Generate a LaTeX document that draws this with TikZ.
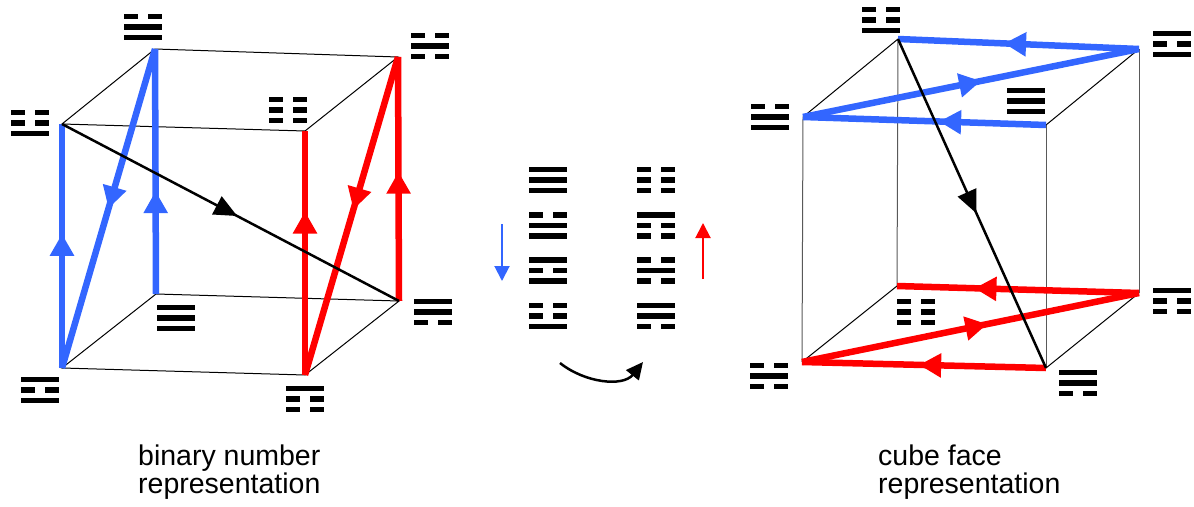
\documentclass[tikz,border=0pt]{standalone}
\usepackage{fontspec}
\setmainfont{Liberation Sans}
\usepackage{tikz}
\usetikzlibrary{arrows.meta,decorations.markings,positioning}
\definecolor{flowblue}{RGB}{51,102,255}
\definecolor{flowred}{RGB}{255,0,0}
% one line of a trigram: 1 = whole, 0 = broken
\newcommand{\yao}[1]{\ifnum#1=1 \rule{38pt}{5.5pt}\else\rule{14pt}{5.5pt}\hspace{10pt}\rule{14pt}{5.5pt}\fi}
\newcommand{\trigram}[3]{\vbox{\offinterlineskip\hbox{\yao{#1}}\kern5pt\hbox{\yao{#2}}\kern5pt\hbox{\yao{#3}}}}
\tikzset{
    tri/.style={inner sep=0pt, outer sep=0pt},
    cube/.style={line width=1pt},
    rim/.style={line width=1pt, black!65},
    flow/.style={line width=6.5pt, postaction={decorate},
        decoration={markings, mark=at position #1 with {\arrow{Triangle[length=22pt,width=23pt]}}}},
    diag/.style={line width=2.5pt, postaction={decorate},
        decoration={markings, mark=at position #1 with {\arrow{Triangle[length=23pt,width=20pt]}}}},
    hint/.style={line width=2pt, -{Triangle[length=15pt,width=15pt]}},
    caption/.style={align=left, inner sep=0pt, font=\fontsize{28.5}{27.5}\selectfont}
}

\begin{document}
\begin{tikzpicture}[x=1pt,y=-1pt]
    \useasboundingbox (0,0) rectangle (1194,506);
    % left cube
    \coordinate (Lzhen) at (62,124);
    \coordinate (Ldui) at (155,49);
    \coordinate (Lkan) at (398,57);
    \coordinate (Lkun) at (305,131);
    \coordinate (Lli) at (62,368);
    \coordinate (Lqian) at (156,294);
    \coordinate (Lxun) at (399,301);
    \coordinate (Lgen) at (305,375);
    \node[tri] (tLdui) at (143,27) {\trigram011};
    \node[tri] (tLkan) at (430,46) {\trigram010};
    \node[tri] (tLzhen) at (30,123) {\trigram001};
    \node[tri] (tLkun) at (288,110) {\trigram000};
    \node[tri] (tLqian) at (176,318) {\trigram111};
    \node[tri] (tLxun) at (433,312) {\trigram110};
    \node[tri] (tLli) at (40,390) {\trigram101};
    \node[tri] (tLgen) at (305,399) {\trigram100};

    \draw[cube] (Lzhen) -- (Ldui) -- (Lkan) -- (Lkun) -- cycle;
    \draw[cube] (Lli) -- (Lqian) -- (Lxun) -- (Lgen) -- cycle;
    \draw[flow=0.42, flowblue] (Lqian) -- (Ldui);
    \draw[flow=0.5, flowblue] (Ldui) -- (Lli);
    \draw[flow=0.55, flowblue] (Lli) -- (Lzhen);
    \draw[flow=0.53, flowred] (Lxun) -- (Lkan);
    \draw[flow=0.48, flowred] (Lkan) -- (Lgen);
    \draw[flow=0.67, flowred] (Lgen) -- (Lkun);
    \draw[diag=0.52] (Lzhen) -- (Lxun);

    % middle: the two orders
    \node[tri] (mqian) at (548,180) {\trigram111};
    \node[tri] (mdui) [below=18.8pt of mqian] {\trigram011};
    \node[tri] (mli) [below=18.8pt of mdui] {\trigram101};
    \node[tri] (mzhen) [below=18.8pt of mli] {\trigram001};
    \node[tri] (mkun) [right=70pt of mqian] {\trigram000};
    \node[tri] (mgen) [below=18.8pt of mkun] {\trigram100};
    \node[tri] (mkan) [below=18.8pt of mgen] {\trigram010};
    \node[tri] (mxun) [below=18.8pt of mkan] {\trigram110};
    \coordinate (downA) at (502,224);
    \coordinate (downB) at (502,281);
    \coordinate (upA) at (703,279);
    \coordinate (upB) at (703,223);
    \coordinate (turnA) at (560,363);
    \coordinate (turnB) at (643,362);
    \draw[hint, flowblue] (downA) -- (downB);
    \draw[hint, flowred] (upA) -- (upB);
    \draw[hint, line width=2.5pt, -{Triangle[length=17pt,width=16pt]}] (turnA) .. controls +(25,20) and +(-20,25) .. (turnB);

    % right cube
    \coordinate (Rzhen) at (898,39);
    \coordinate (Rli) at (1139,49);
    \coordinate (Rdui) at (803,117);
    \coordinate (Rqian) at (1046,125);
    \coordinate (Rkun) at (897,286);
    \coordinate (Rgen) at (1139,293);
    \coordinate (Rkan) at (802,362);
    \coordinate (Rxun) at (1046,368);
    \node[tri] (tRzhen) at (881,20) {\trigram001};
    \node[tri] (tRli) at (1172,44) {\trigram101};
    \node[tri] (tRdui) at (770,117) {\trigram011};
    \node[tri] (tRqian) at (1026,101) {\trigram111};
    \node[tri] (tRkun) at (916,312) {\trigram000};
    \node[tri] (tRgen) at (1172,301) {\trigram100};
    \node[tri] (tRkan) at (769,376) {\trigram010};
    \node[tri] (tRxun) at (1078,383) {\trigram110};

    \draw[rim] (Rdui) -- (Rkan);
    \draw[rim] (Rzhen) -- (Rkun);
    \draw[rim] (Rqian) -- (Rxun);
    \draw[rim] (Rli) -- (Rgen);
    \draw[cube] (Rdui) -- (Rzhen);
    \draw[cube] (Rli) -- (Rqian);
    \draw[cube] (Rkan) -- (Rkun);
    \draw[cube] (Rgen) -- (Rxun);
    \draw[flow=0.44, flowblue] (Rqian) -- (Rdui);
    \draw[flow=0.53, flowblue] (Rdui) -- (Rli);
    \draw[flow=0.56, flowblue] (Rli) -- (Rzhen);
    \draw[flow=0.52, flowred] (Rxun) -- (Rkan);
    \draw[flow=0.55, flowred] (Rkan) -- (Rgen);
    \draw[flow=0.68, flowred] (Rgen) -- (Rkun);
    \draw[diag=0.53] (Rzhen) -- (Rxun);

    \node[caption, anchor=base west] (lcap) at (138,493) {binary number\\representation};
    \node[caption, anchor=base west] (rcap) at (878,493) {cube face\\representation};
\end{tikzpicture}
\end{document}
